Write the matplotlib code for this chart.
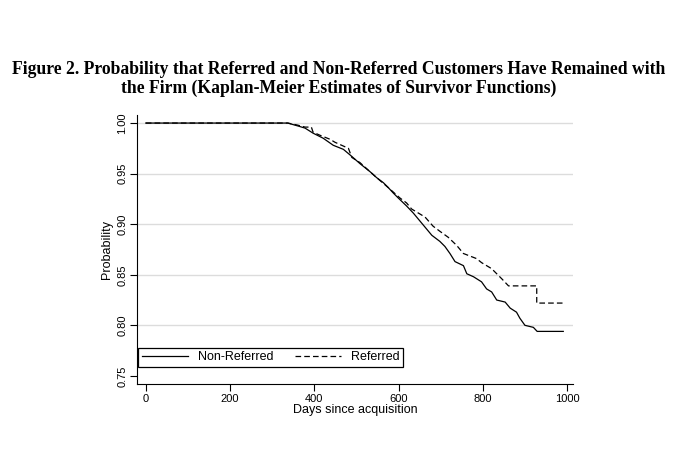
import matplotlib
matplotlib.use("Agg")
import matplotlib.pyplot as plt

# Kaplan-Meier estimates (days, survival)
non_ref_days = [0, 337, 345, 362, 378, 397, 421, 445, 469, 489, 508, 532, 548, 564,
                576, 587, 599, 619, 635, 651, 667, 679, 698, 710, 722, 734, 754,
                762, 778, 797, 809, 821, 833, 853, 865, 880, 888, 900, 920, 929, 991]
non_ref_surv = [1.000, 1.000, 0.999, 0.997, 0.995, 0.990, 0.985, 0.978, 0.974, 0.967,
                0.960, 0.952, 0.946, 0.941, 0.936, 0.931, 0.926, 0.918, 0.911, 0.903,
                0.895, 0.889, 0.883, 0.878, 0.871, 0.863, 0.859, 0.851, 0.848, 0.843,
                0.836, 0.833, 0.825, 0.823, 0.817, 0.813, 0.807, 0.800, 0.798, 0.794,
                0.794]

ref_days = [0, 337, 360, 378, 393, 397, 413, 425, 437, 449, 465, 481, 489, 508,
            532, 548, 576, 603, 619, 631, 647, 663, 682, 698, 718, 738, 754, 785,
            797, 821, 845, 861, 928, 928, 995]
ref_surv = [1.000, 1.000, 0.998, 0.996, 0.996, 0.991, 0.988, 0.986, 0.984, 0.981,
            0.978, 0.975, 0.966, 0.961, 0.952, 0.946, 0.936, 0.926, 0.921, 0.915,
            0.911, 0.907, 0.898, 0.893, 0.887, 0.879, 0.871, 0.866, 0.862, 0.856,
            0.846, 0.839, 0.839, 0.822, 0.822]

x_ticks = [0, 200, 400, 600, 800, 1000]
y_ticks = [0.75, 0.80, 0.85, 0.90, 0.95, 1.00]
grid_levels = [0.80, 0.85, 0.90, 0.95, 1.00]

sans = ["Liberation Sans", "DejaVu Sans"]

fig = plt.figure(figsize=(6.87, 4.58), dpi=100)
ax = fig.add_axes([0.1994, 0.1616, 0.6346, 0.5874])

for y in grid_levels:
    ax.axhline(y, color="#dcdcdc", lw=1.0, zorder=0)

ax.plot(non_ref_days, non_ref_surv, color="black", lw=0.9, label="Non-Referred")
ax.plot(ref_days, ref_surv, color="black", lw=0.9,
        linestyle=(0, (4.5, 2.5)), label="Referred")

ax.set_xlim(-21, 1014)
ax.set_ylim(0.742, 1.008)
ax.set_xticks(x_ticks)
ax.set_yticks(y_ticks)
ax.set_xticklabels([str(v) for v in x_ticks], fontsize=8, family=sans)
ax.set_yticklabels([f"{v:.2f}" for v in y_ticks], fontsize=8, family=sans,
                   rotation=90, va="center")
ax.tick_params(direction="out", length=5, width=0.8, color="black", pad=2)

for side in ["top", "right"]:
    ax.spines[side].set_visible(False)
for side in ["left", "bottom"]:
    ax.spines[side].set_linewidth(0.8)

ax.set_xlabel("Days since acquisition", fontsize=9, family=sans)
ax.xaxis.set_label_coords(0.5, -0.076)
ax.set_ylabel("Probability", fontsize=9, family=sans)
ax.yaxis.set_label_coords(-0.054, 0.5)

leg = ax.legend(loc="lower left", bbox_to_anchor=(0.002, 0.063), ncol=2,
                fancybox=False, edgecolor="black", framealpha=1,
                prop={"family": sans, "size": 9}, borderpad=0.3,
                handlelength=3.7, columnspacing=1.7, handletextpad=0.8,
                borderaxespad=0)
leg.get_frame().set_linewidth(0.9)

fig.text(0.4927, 0.828,
         "Figure 2. Probability that Referred and Non-Referred Customers Have Remained with\n"
         "the Firm (Kaplan-Meier Estimates of Survivor Functions)",
         ha="center", va="center", fontsize=12.7, fontweight="bold",
         family=["Liberation Serif", "DejaVu Serif"], linespacing=1.15)

fig.savefig("out.png", dpi=100)
